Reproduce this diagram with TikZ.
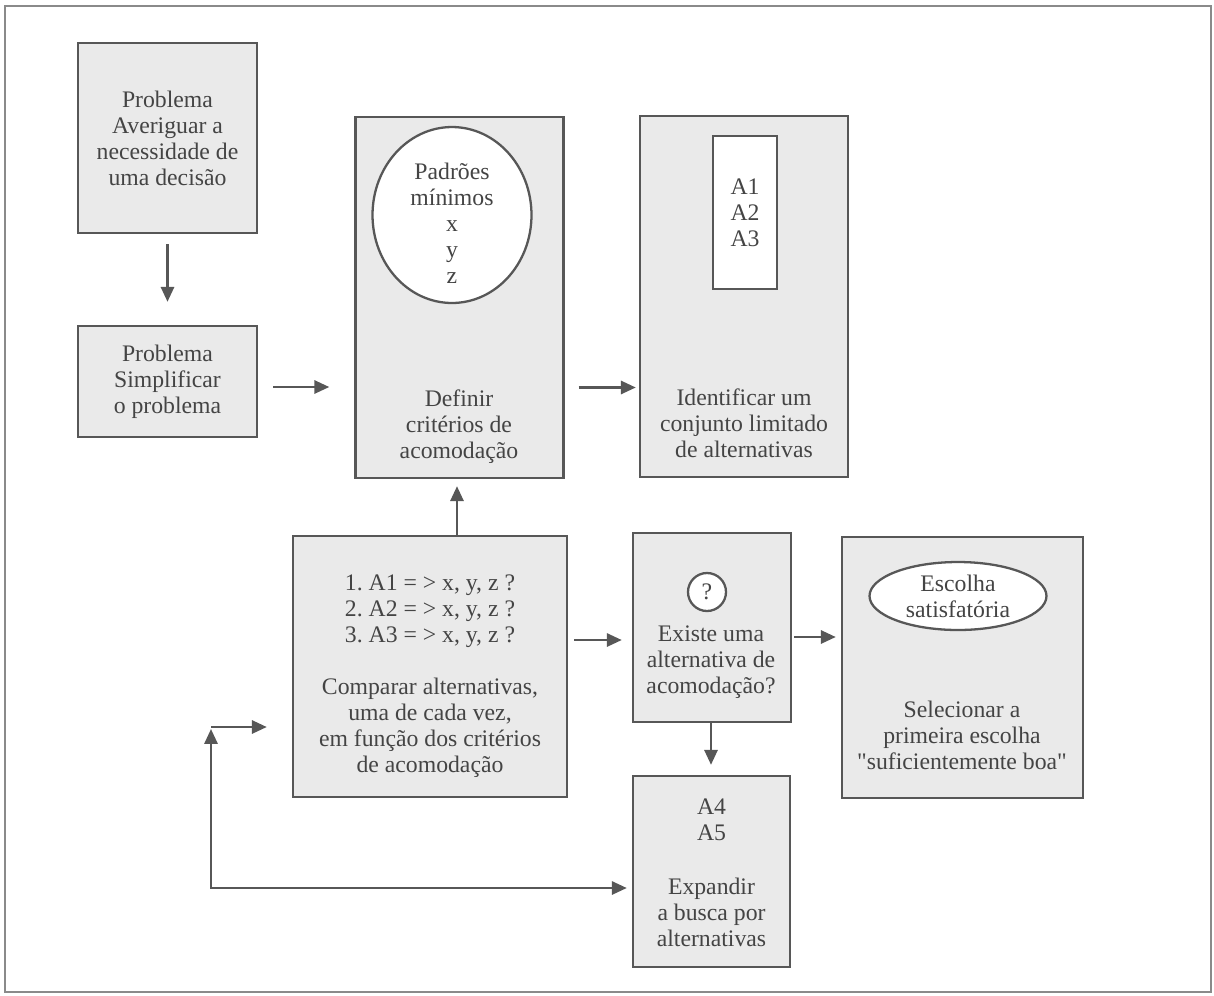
\documentclass[tikz,border=0pt]{standalone}
\usepackage{fontspec}
\setmainfont{Liberation Serif}[Ligatures=TeXOff]
\usetikzlibrary{arrows.meta,shapes.geometric}
\definecolor{boxfill}{HTML}{EAEAEA}
\definecolor{boxline}{HTML}{575757}
\definecolor{inktext}{HTML}{444444}
\definecolor{framegray}{HTML}{8A8A8A}
\frenchspacing

\begin{document}
\begin{tikzpicture}[x=0.02cm,y=-0.02cm,
  every node/.style={font=\fontsize{13.5}{14.8}\selectfont,text=inktext,align=center,inner sep=0pt},
  blok/.style={rectangle,draw=boxline,line width=1.4pt,fill=boxfill},
  inner/.style={draw=boxline,line width=1.3pt,fill=white},
  seta/.style={draw=boxline,line width=1.4pt,-{Triangle[length=8.5pt,width=7.5pt]}}]

  \useasboundingbox (0,0) rectangle (1214,995);
  \draw[framegray,line width=1pt] (5,6) rectangle (1211,992);

  % top row
  \node[blok,minimum width=3.58cm,minimum height=3.8cm] (averiguar) at (167.5,138)
    {Problema\\Averiguar a\\necessidade de\\uma decisão};
  \node[blok,minimum width=3.58cm,minimum height=2.22cm] (simplificar) at (167.5,381.5)
    {Problema\\Simplificar\\o problema};
  \node[blok,minimum width=4.16cm,minimum height=7.22cm] (criterios) at (459.5,297.5) {};
  \node[blok,minimum width=4.16cm,minimum height=7.22cm] (identificar) at (744,296.5) {};

  \node[ellipse,inner,minimum width=3.18cm,minimum height=3.52cm] (padroes) at (452,215) {};
  \node (padroestxt) at (452,223) {Padrões\\mínimos\\x\\y\\z};
  \node (criteriostxt) at (459,427) {Definir\\critérios de\\acomodação};
  \node[rectangle,inner,minimum width=1.28cm,minimum height=3.06cm] (lista) at (745,212.5)
    {A1\\A2\\A3};
  \node (identificartxt) at (744,423) {Identificar um\\conjunto limitado\\de alternativas};

  % bottom row
  \node[blok,minimum width=5.48cm,minimum height=5.22cm] (comparar) at (430,666.5) {};
  \node (comparartxt) at (430,676) {1. A1 = > x, y, z ?\\2. A2 = > x, y, z ?\\3. A3 = > x, y, z ?\\[14.8pt]
    Comparar alternativas,\\uma de cada vez,\\em função dos critérios\\de acomodação};
  \node[blok,minimum width=3.16cm,minimum height=3.78cm] (existe) at (712,627.5) {};
  \node[circle,inner,minimum size=0.76cm] (questao) at (707,592) {?};
  \node (existetxt) at (711,662) {Existe uma\\alternativa de\\acomodação?};
  \node[blok,minimum width=3.14cm,minimum height=3.82cm] (expandir) at (711.5,871.5) {};
  \node (novas) at (711.5,819.5) {A4\\A5};
  \node (expandirtxt) at (711.5,912) {Expandir\\a busca por\\alternativas};
  \node[blok,minimum width=4.82cm,minimum height=5.22cm] (selecionar) at (962.5,667.5) {};
  \node[ellipse,inner,minimum width=3.54cm,minimum height=1.36cm] (escolha) at (958,596)
    {Escolha\\satisfatória};
  \node (selecionartxt) at (962,735) {Selecionar a\\primeira escolha\\"suficientemente boa"};

  % connectors
  \draw[seta,shorten <=0.2cm,shorten >=0.46cm] (averiguar.south) -- (simplificar.north);
  \draw[seta,shorten <=0.3cm,shorten >=0.5cm] ([yshift=-0.11cm]simplificar.east) -- ([yshift=-0.11cm]simplificar.east -| criterios.west);
  \draw[seta,shorten <=0.28cm,shorten >=0.06cm] ([yshift=-1.8cm]criterios.east) -- ([yshift=-1.8cm]criterios.east -| identificar.west);
  \draw[seta,shorten >=0.14cm] ([xshift=0.54cm]comparar.north) -- ([xshift=0.54cm]comparar.north |- criterios.south);
  \draw[seta,shorten <=0.12cm,shorten >=0.2cm] ([yshift=0.53cm]comparar.east) -- ([yshift=0.53cm]comparar.east -| existe.west);
  \draw[seta,shorten <=0.04cm,shorten >=0.1cm] ([yshift=-0.19cm]existe.east) -- ([yshift=-0.19cm]existe.east -| selecionar.west);
  \draw[seta,shorten >=0.2cm] ([xshift=-0.02cm]existe.south) -- ([xshift=-0.02cm]existe.south |- expandir.north);

  % return loop
  \coordinate (canto) at (211,727);
  \coordinate (retorno) at (211,888);
  \draw[seta,{Triangle[length=8.5pt,width=7.5pt]}-{Triangle[length=8.5pt,width=7.5pt]},shorten <=0.04cm,shorten >=0.1cm]
    (canto) -- (retorno) -- (retorno -| expandir.west);
  \draw[seta,shorten >=0.5cm] (canto) -- (canto -| comparar.west);

\end{tikzpicture}
\end{document}
